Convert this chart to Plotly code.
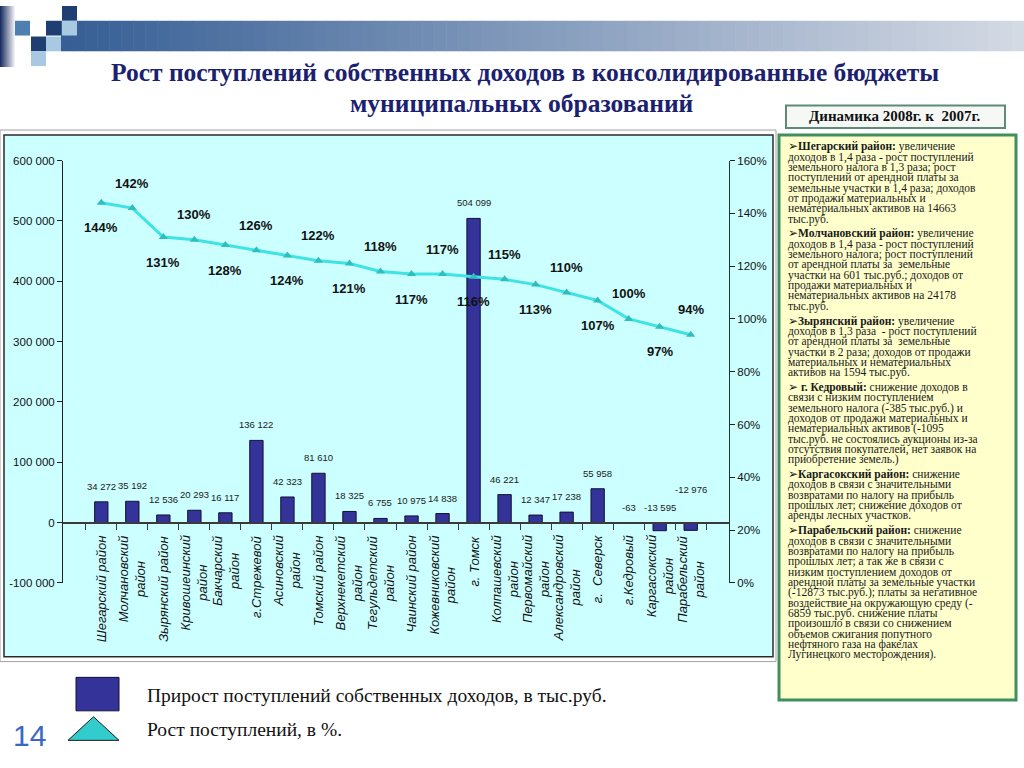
import plotly.graph_objects as go

# ---------------- data ----------------
categories = [
    "Шегарский район", "Молчановский\nрайон", "Зырянский район", "Кривошеинский\nрайон",
    "Бакчарский\nрайон", "г.Стрежевой", "Асиновский\nрайон", "Томский район",
    "Верхнекетский\nрайон", "Тегульдетский\nрайон", "Чаинский район", "Кожевниковский\nрайон",
    "г. Томск", "Колпашевский\nрайон", "Первомайский\nрайон", "Александровский\nрайон",
    "г.  Северск", "г.Кедровый", "Каргасокский\nрайон", "Парабельский\nрайон",
]
increase_th_rub = [34272, 35192, 12536, 20293, 16117, 136122, 42323, 81610, 18325, 6755,
                   10975, 14838, 504099, 46221, 12347, 17238, 55958, -63, -13595, -12976]
growth_pct = [144, 142, 131, 130, 128, 126, 124, 122, 121, 118,
              117, 117, 116, 115, 113, 110, 107, 100, 97, 94]

left_tick_vals = [600000, 500000, 400000, 300000, 200000, 100000, 0, -100000]
left_tick_text = ["600 000", "500 000", "400 000", "300 000", "200 000", "100 000", "0", "-100 000"]
right_tick_vals = [1.6, 1.4, 1.2, 1.0, 0.8, 0.6, 0.4, 0.2, 0.0]
right_tick_text = ["160%", "140%", "120%", "100%", "80%", "60%", "40%", "20%", "0%"]

title_lines = ["Рост поступлений собственных доходов в консолидированные бюджеты",
               "муниципальных образований"]
panel_header = "Динамика 2008г. к  2007г."
panel_paragraphs = [
    ("Шегарский район:", "", ["увеличение", "доходов в 1,4 раза - рост поступлений",
      "земельного налога в 1,3 раза; рост", "поступлений от арендной платы за",
      "земельные участки в 1,4 раза; доходов", "от продажи материальных и",
      "нематериальных активов на 14663", "тыс.руб."]),
    ("Молчановский район:", "", ["увеличение", "доходов в 1,4 раза - рост поступлений",
      "земельного налога; рост поступлений", "от арендной платы за  земельные",
      "участки на 601 тыс.руб.; доходов от", "продажи материальных и",
      "нематериальных активов на 24178", "тыс.руб."]),
    ("Зырянский район:", "", ["увеличение", "доходов в 1,3 раза  - рост поступлений",
      "от арендной платы за  земельные", "участки в 2 раза; доходов от продажи",
      "материальных и нематериальных", "активов на 1594 тыс.руб."]),
    ("г. Кедровый:", " ", ["снижение доходов в", "связи с низким поступлением",
      "земельного налога (-385 тыс.руб.) и", "доходов от продажи материальных и",
      "нематериальных активов (-1095", "тыс.руб. не состоялись аукционы из-за",
      "отсутствия покупателей, нет заявок на", "приобретение земель.)"]),
    ("Каргасокский район:", "", ["снижение", "доходов в связи с значительными",
      "возвратами по налогу на прибыль", "прошлых лет; снижение доходов от",
      "аренды лесных участков."]),
    ("Парабельский район:", "", ["снижение", "доходов в связи с значительными",
      "возвратами по налогу на прибыль", "прошлых лет; а так же в связи с",
      "низким поступлением доходов от", "арендной платы за земельные участки",
      "(-12873 тыс.руб.); платы за негативное", "воздействие на окружающую среду (-",
      "6859 тыс.руб. снижение платы", "произошло в связи со снижением",
      "объемов сжигания попутного", "нефтяного газа на факелах",
      "Лугинецкого месторождения)."]),
]
legend_texts = ["Прирост поступлений собственных доходов, в тыс.руб.", "Рост поступлений, в %."]
page_number = "14"

# ---------------- helpers ----------------
W, H = 1024, 768
def px(x): return x / W
def py(y): return 1 - y / H

BAR_COLOR = "#333399"
LINE_COLOR = "#3FE3E3"
MARK_COLOR = "#2FBDBD"
SANS = "Liberation Sans, Arial"
SERIF = "Liberation Serif, Times New Roman, serif"

x_names = [c.replace("\n", " ") for c in categories]

fig = go.Figure()
fig.add_trace(go.Bar(x=x_names, y=increase_th_rub, marker=dict(color=BAR_COLOR, line=dict(color="#111133", width=1)),
                     width=0.43, yaxis="y", showlegend=False, hoverinfo="skip"))
fig.add_trace(go.Scatter(x=x_names, y=[g / 100 for g in growth_pct], yaxis="y2", mode="lines+markers",
                         line=dict(color=LINE_COLOR, width=3),
                         marker=dict(symbol="triangle-up", size=8, color=MARK_COLOR),
                         showlegend=False, hoverinfo="skip"))

y_bottom_px, y_top_px = 586, 157
ydom = [py(y_bottom_px), py(y_top_px)]
zero_pos = ydom[0] + (ydom[1] - ydom[0]) * (0 - left_tick_vals[-1]) / (left_tick_vals[0] - left_tick_vals[-1])

annotations = []
def paper_text(x, y, text, size, family, color="#111111", xanchor="center", yanchor="middle", **kw):
    annotations.append(dict(x=px(x), y=py(y), xref="paper", yref="paper", text=text, showarrow=False,
                            xanchor=xanchor, yanchor=yanchor,
                            font=dict(family=family, size=size, color=color), **kw))

# bar value labels
label_lift = {19: 18}
for i, (name, v) in enumerate(zip(x_names, increase_th_rub)):
    txt = f"{v:,}".replace(",", " ")
    annotations.append(dict(x=name, y=max(v, 0), xref="x", yref="y", text=txt, showarrow=False,
                            xanchor="center", yanchor="bottom", yshift=8 + label_lift.get(i, 0),
                            font=dict(family=SANS, size=9.5, color="#1a1a1a")))
# growth labels
for i, (name, g) in enumerate(zip(x_names, growth_pct)):
    annotations.append(dict(x=name, y=g / 100, xref="x", yref="y2", text=f"<b>{g}%</b>", showarrow=False,
                            xanchor="center", yanchor="middle", yshift=(-25 if i % 2 == 0 else 25),
                            font=dict(family=SANS, size=13, color="#111111")))
# category labels (rotated)
for name, c in zip(x_names, categories):
    annotations.append(dict(x=name, y=0, xref="x", yref="y", text="<i>" + c.replace("\n", "<br>") + "</i>",
                            showarrow=False, textangle=-90, yanchor="top", xanchor="center", yshift=-11,
                            align="center", font=dict(family=SANS, size=13, color="#111111")))

# title
paper_text(525, 68, "<b>" + title_lines[0] + "</b>", 25.5, SERIF, "#1B2170")
paper_text(522, 99, "<b>" + title_lines[1] + "</b>", 25.5, SERIF, "#1B2170")
# panel header
paper_text(895, 112, "<b>" + panel_header + "</b>", 15, SERIF)
# panel text, one annotation per line
pitch, gap, y0 = 10.5, 4.5, 143.0
yy = y0
for head, pre, lines in panel_paragraphs:
    for j, ln in enumerate(lines):
        t = ("➢" + pre + "<b>" + head + "</b> " + ln) if j == 0 else ln
        paper_text(786, yy, t, 11.5, SERIF, "#1a1a1a", xanchor="left")
        yy += pitch
    yy += gap
# legend texts
paper_text(145, 700, legend_texts[0], 19.5, SERIF, xanchor="left")
paper_text(145, 735, legend_texts[1], 19.5, SERIF, xanchor="left")
paper_text(29, 741, page_number, 30, SANS, "#3A66C8")

# ---------------- decoration shapes ----------------
shapes = []
def rect(x0, y0_, x1, y1, fill, line_color=None, lw=0, layer="below"):
    shapes.append(dict(type="rect", xref="paper", yref="paper", x0=px(x0), x1=px(x1), y0=py(y1), y1=py(y0_),
                       fillcolor=fill, layer=layer, line=dict(width=lw, color=line_color or fill)))

# left vertical gradient strip
for i in range(16):
    t = i / 15
    c = tuple(int(a + (255 - a) * t) for a in (28, 48, 100))
    rect(i, 0, i + 1.05, 62, "rgb(%d,%d,%d)" % c)
# header gradient bar
x_start, x_end, n = 61, 1024, 80
c0, c1 = (55, 95, 150), (212, 218, 228)
for i in range(n):
    t = i / (n - 1)
    c = tuple(int(a + (b - a) * t) for a, b in zip(c0, c1))
    xa = x_start + (x_end - x_start) * i / n
    xb = x_start + (x_end - x_start) * (i + 1) / n + 0.6
    rect(xa, 15, xb, 46, "rgb(%d,%d,%d)" % c)
NAVY, MID, LIGHT = "#1F3F73", "#4F7FB0", "#A9C9E3"
rect(62, 0, 77, 15, NAVY)
rect(15, 15, 30, 30, MID)
rect(46, 15, 61, 30, NAVY)
rect(62, 15, 77, 30, LIGHT)
rect(31, 31, 46, 46, NAVY)
rect(46, 31, 61, 46, LIGHT)
rect(31, 46, 46, 61, LIGHT)

# chart frame
rect(0, 126, 776, 666, "rgba(0,0,0,0)", "#A0A0A0", 1)
rect(4, 131, 773, 661, "#CCFFFF", "#2B2B2B", 1.5)
# right panel
rect(786, 101, 1005, 124, "#F6F8F6", "#5C8C78", 2)
rect(779, 131, 1016, 705, "#FFFFCC", "#3F8F5F", 3)
# legend marks
rect(76, 682, 119, 716, BAR_COLOR, "#111133", 1, layer="above")
shapes.append(dict(type="path", xref="paper", yref="paper", layer="above",
                   path=f"M {px(68)},{py(746)} L {px(119)},{py(746)} L {px(93.5)},{py(722)} Z",
                   fillcolor="#33CCCC", line=dict(color="#1a1a1a", width=1)))

fig.update_layout(
    width=W, height=H, margin=dict(l=0, r=0, t=0, b=0),
    paper_bgcolor="white", plot_bgcolor="#C0C0C0",
    xaxis=dict(domain=[px(63), px(729)], anchor="free", position=zero_pos, showline=True, linecolor="#3a3a3a",
               linewidth=2, ticks="outside", tickson="boundaries", ticklen=6, tickcolor="#3a3a3a",
               showticklabels=False, showgrid=False, zeroline=False, fixedrange=True),
    yaxis=dict(domain=ydom, range=[-100000, 600000], tickvals=left_tick_vals, ticktext=left_tick_text,
               showline=True, linecolor="#222222", linewidth=1, ticks="outside", ticklen=5, tickcolor="#222222",
               showgrid=False, zeroline=False, tickfont=dict(family=SANS, size=11.5, color="#111111")),
    yaxis2=dict(overlaying="y", side="right", anchor="x", range=[0, 1.6], tickvals=right_tick_vals,
                ticktext=right_tick_text, showline=True, linecolor="#1d3a2a", linewidth=1, ticks="outside",
                ticklen=5, tickcolor="#222222", showgrid=False, zeroline=False,
                tickfont=dict(family=SANS, size=11.5, color="#111111")),
    bargap=0.5, annotations=annotations, shapes=shapes, showlegend=False,
)

fig.write_html("out.html", config={"displayModeBar": False, "staticPlot": True},
               post_script="document.body.style.margin='0';document.body.style.overflow='hidden';")
